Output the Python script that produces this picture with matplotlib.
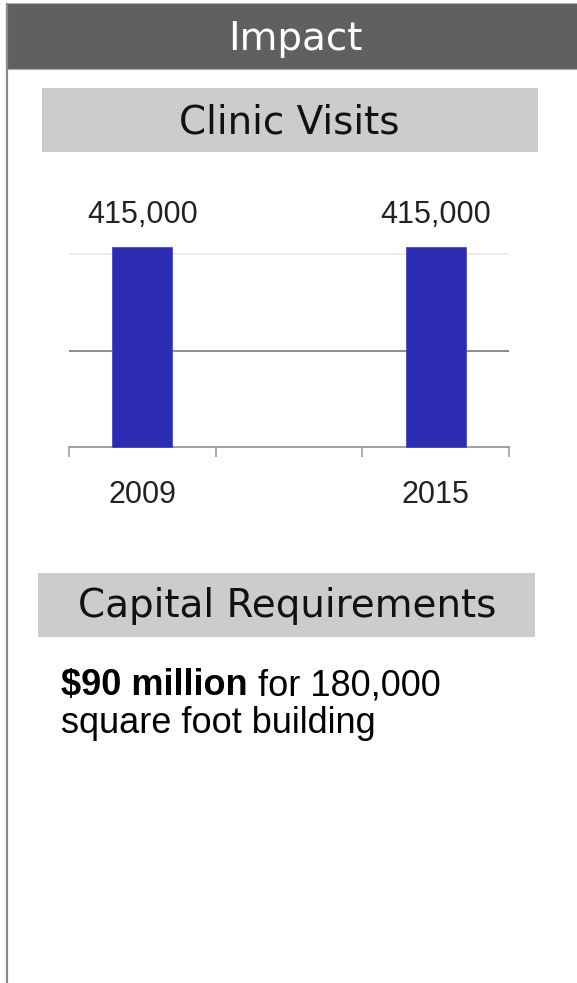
import numpy as np
import matplotlib
matplotlib.use('Agg')
import matplotlib.pyplot as plt
from matplotlib.patches import Rectangle

# data
slots = ['2009', '', '2015']
visits = [415000, np.nan, 415000]
grid_vals = [200000, 400000]
panel_title = 'Impact'
chart_title = 'Clinic Visits'
capital_title = 'Capital Requirements'
capital_bold = '$90 million'
capital_rest = ' for 180,000'
capital_line2 = 'square foot building'

W, H = 577, 983
fig = plt.figure(figsize=(W / 100, H / 100), dpi=100)

# background / panel frame in pixel coords
bg = fig.add_axes([0, 0, 1, 1])
bg.set_xlim(0, W)
bg.set_ylim(H, 0)
bg.axis('off')

bg.plot([6.5, 6.5], [3, H], color='#8a8a8a', lw=1.6, solid_capstyle='butt')
bg.add_patch(Rectangle((5.5, 3), W - 5, 66, facecolor='#606060', edgecolor='#b0b0b0', lw=0.8))
bg.add_patch(Rectangle((42, 88), 496, 64, facecolor='#cccccc', edgecolor='none'))
bg.add_patch(Rectangle((38, 573), 497, 64, facecolor='#cccccc', edgecolor='none'))

bg.text(295, 50, panel_title, color='white', fontsize=28, ha='center', va='baseline',
        family='DejaVu Sans')
bg.text(289, 133, chart_title, color='#111111', fontsize=28, ha='center', va='baseline',
        family='DejaVu Sans')
bg.text(287, 617, capital_title, color='#111111', fontsize=28, ha='center', va='baseline',
        family='DejaVu Sans')

t1 = bg.text(61, 695, capital_bold, fontsize=26, fontweight='bold', va='baseline',
             family='Liberation Sans', color='black')
bg.annotate(capital_rest, xy=(1, 0), xycoords=t1, va='bottom', ha='left',
            fontsize=26, family='Liberation Sans', color='black')
bg.text(61, 733, capital_line2, fontsize=26, va='baseline', family='Liberation Sans',
        color='black')

# bar chart
ax = fig.add_axes([69 / W, 1 - 447 / H, 440 / W, 200 / H])
ax.set_facecolor('none')
x = np.arange(len(slots))
ax.set_xlim(-0.5, len(slots) - 0.5)
ax.set_ylim(0, 415000)

ax.axhline(grid_vals[0], color='#8c8c8c', lw=1.4, zorder=1)
ax.axhline(grid_vals[1], color='#ececec', lw=1.4, zorder=1)

ax.bar(x, visits, width=0.41, color='#2c2cb2', edgecolor='#4848d0', lw=0.6,
       zorder=3, clip_on=False)
for xi, v in zip(x, visits):
    if np.isnan(v):
        continue
    ax.annotate(f'{int(v):,}', xy=(xi, v), xytext=(0, 17), textcoords='offset points',
                ha='center', va='baseline', fontsize=22, family='Liberation Sans',
                color='#222222')

for s in ['top', 'left', 'right']:
    ax.spines[s].set_visible(False)
ax.spines['bottom'].set_color('#a0a0a0')
ax.spines['bottom'].set_linewidth(1.4)
ax.set_yticks([])
ax.set_xticks(x)
ax.set_xticklabels(slots, fontsize=22, family='Liberation Sans', color='#222222')
ax.tick_params(axis='x', which='major', length=0, pad=24)
ax.set_xticks(np.arange(len(slots) + 1) - 0.5, minor=True)
ax.tick_params(axis='x', which='minor', length=7.2, width=1.2, color='#a0a0a0',
               direction='out')

fig.savefig('out.png', dpi=100)
